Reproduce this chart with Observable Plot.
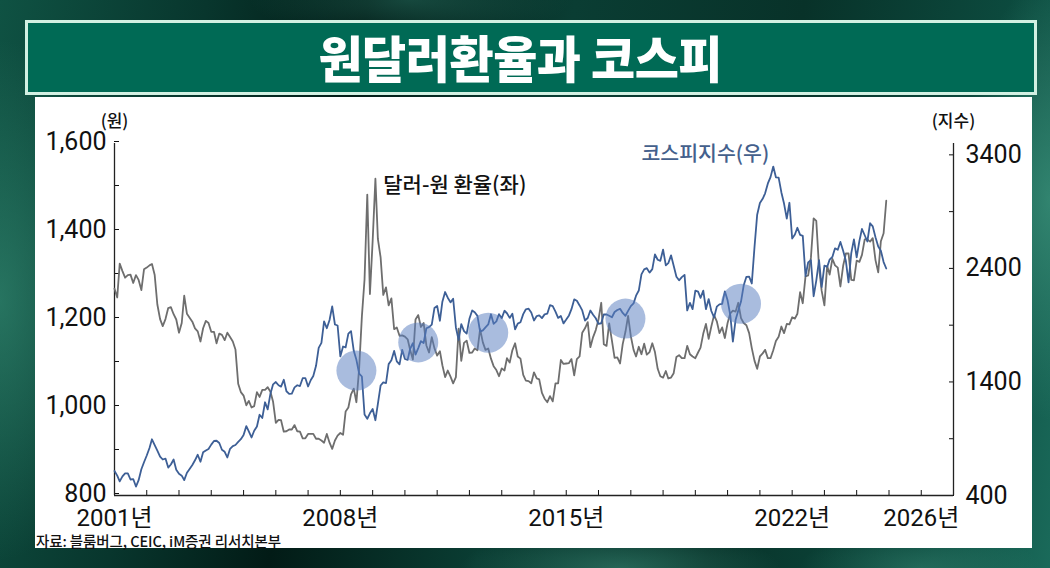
<!DOCTYPE html>
<html>
<head>
<meta charset="utf-8">
<script src="https://cdn.jsdelivr.net/npm/d3@7"></script>
<script src="https://cdn.jsdelivr.net/npm/@observablehq/plot@0.6"></script>
<style>
  html, body { margin: 0; padding: 0; }
  body {
    width: 1050px; height: 568px; overflow: hidden; position: relative;
    background:
      radial-gradient(ellipse 120px 260px at 0px 300px, rgba(60,150,125,0.55), rgba(0,0,0,0) 100%),
      radial-gradient(ellipse 90px 220px at 1050px 200px, rgba(70,160,135,0.6), rgba(0,0,0,0) 100%),
      radial-gradient(ellipse 160px 40px at 620px 568px, rgba(60,140,120,0.55), rgba(0,0,0,0) 100%),
      radial-gradient(ellipse 120px 40px at 920px 568px, rgba(60,140,120,0.45), rgba(0,0,0,0) 100%),
      radial-gradient(ellipse 160px 40px at 410px 0px, rgba(40,110,95,0.5), rgba(0,0,0,0) 100%),
      linear-gradient(100deg, #0f5243 0%, #08362d 18%, #021b16 32%, #0a3d33 50%, #083229 70%, #0c4a3e 88%, #1a6a5a 100%);
    font-family: Roboto, "Noto Sans CJK KR", sans-serif;
  }
  #banner {
    position: absolute; left: 25px; top: 20px; width: 1012px; height: 75px;
    box-sizing: border-box; border: 3px solid #d2f0e2; background: #006a55;
    display: flex; align-items: center; justify-content: center;
  }
  #banner span {
    color: #ffffff; font-family: "Noto Sans CJK KR", sans-serif; font-weight: 900;
    font-size: 50px; line-height: 1; display: inline-block;
    transform: translate(-11px, -2px) scaleX(0.96);
    letter-spacing: -0.5px;
  }
  #panel {
    position: absolute; left: 35px; top: 97px; width: 997px; height: 451px; background: #ffffff;
  }
  #chart { position: absolute; left: 0; top: 0; }
  #source {
    position: absolute; left: 1px; top: 437px; font-family: "Noto Sans CJK KR", sans-serif;
    font-size: 14.5px; line-height: 1; font-weight: 500; color: #111; letter-spacing: -0.1px; white-space: nowrap;
  }
</style>
</head>
<body>
<div id="banner"><span>원달러환율과 코스피</span></div>
<div id="panel">
  <div id="chart"></div>
  <div id="source">자료: 블룸버그, CEIC, iM증권 리서치본부</div>
</div>
<script>
// Monthly series, Jan 2001 - Dec 2024 (month-end readings)
const startYear = 2001;
const usdkrw = [
  1270,1250,1327,1310,1295,1301,1302,1283,1301,1290,1267,1314,
  1318,1323,1326,1301,1234,1201,1185,1201,1226,1228,1212,1200,
  1170,1192,1254,1213,1204,1195,1180,1173,1150,1180,1197,1192,
  1172,1172,1146,1168,1165,1153,1170,1160,1150,1132,1054,1035,
  1027,1005,1015,1000,1003,1035,1024,1040,1040,1046,1036,1013,
  965,972,971,945,946,950,950,960,946,945,930,930,
  940,940,940,929,929,925,920,940,920,906,925,936,
  942,938,991,1000,1030,1043,1012,1089,1207,1291,1484,1258,
  1379,1520,1383,1341,1256,1273,1232,1248,1178,1182,1163,1164,
  1161,1155,1131,1109,1200,1210,1183,1192,1141,1125,1160,1135,
  1118,1128,1096,1069,1084,1070,1055,1069,1179,1106,1147,1152,
  1124,1125,1134,1130,1178,1148,1131,1134,1111,1094,1085,1071,
  1089,1084,1112,1102,1130,1146,1116,1111,1074,1061,1060,1055,
  1080,1066,1064,1033,1020,1012,1026,1014,1055,1055,1108,1099,
  1100,1101,1110,1073,1110,1116,1170,1180,1194,1137,1160,1176,
  1200,1238,1144,1140,1191,1152,1113,1114,1100,1144,1172,1208,
  1162,1131,1116,1138,1121,1145,1120,1126,1146,1126,1088,1071,
  1068,1083,1066,1068,1078,1115,1119,1112,1112,1140,1121,1116,
  1112,1125,1136,1168,1190,1156,1184,1210,1196,1169,1182,1158,
  1192,1214,1220,1218,1238,1203,1192,1187,1169,1135,1106,1088,
  1116,1123,1131,1112,1112,1130,1151,1161,1184,1169,1190,1189,
  1205,1202,1213,1262,1237,1298,1300,1340,1430,1424,1319,1265,
  1232,1322,1302,1338,1323,1318,1275,1322,1350,1350,1290,1289,
  1334,1331,1347,1382,1382,1377,1385,1335,1307,1378,1396,1470
];
const kospi = [
  616,575,524,568,595,595,541,545,479,535,631,693,
  752,818,895,844,796,742,717,725,646,673,717,627,
  591,575,535,600,634,669,710,759,697,780,797,810,
  848,880,882,862,803,785,735,811,835,845,873,896,
  932,1011,965,911,970,1008,1111,1083,1221,1158,1297,1379,
  1399,1371,1359,1419,1318,1295,1297,1352,1371,1364,1433,1434,
  1360,1417,1453,1542,1700,1744,1933,1873,1946,2065,1906,1897,
  1625,1712,1704,1825,1848,1674,1595,1474,1448,1113,1076,1124,
  1162,1063,1206,1369,1396,1390,1557,1591,1673,1581,1555,1683,
  1602,1594,1692,1741,1641,1698,1759,1743,1873,1883,1905,2051,
  2069,1939,2107,2192,2142,2101,2133,1880,1770,1909,1847,1826,
  1956,2030,2014,1982,1843,1854,1881,1906,1996,1912,1933,1997,
  1962,2027,2005,1964,2001,1863,1914,1926,1997,2040,2045,2011,
  1941,1980,1986,1962,1995,2002,2076,2068,2020,1964,1981,1916,
  1950,1986,2041,2127,2115,2074,2030,1941,1963,2029,1992,1961,
  1912,1917,1996,1994,1983,1970,2016,2034,2044,2008,1983,2026,
  2068,2092,2160,2205,2347,2392,2402,2363,2394,2523,2476,2467,
  2566,2427,2446,2515,2423,2326,2295,2323,2343,2030,2097,2041,
  2205,2195,2141,2204,2041,2130,2025,1968,2063,2083,2088,2198,
  2119,1987,1755,1948,2030,2108,2249,2326,2328,2267,2591,2873,
  2976,3013,3061,3148,3204,3297,3202,3200,3069,2971,2839,2978,
  2663,2699,2758,2695,2686,2333,2452,2473,2155,2293,2473,2236,
  2425,2413,2477,2501,2577,2564,2633,2556,2465,2277,2535,2655,
  2497,2642,2747,2692,2637,2798,2770,2674,2593,2556,2456,2399
];
// Highlight circles (year-month, exchange rate level)
const circleMonths = ["2008-07", "2010-06", "2012-08", "2016-11", "2020-06"];
const circleValues = [1084, 1148, 1170, 1202, 1236];
// Axis definitions
const leftDomain = [800, 1600];
const leftTicks = [800, 900, 1000, 1100, 1200, 1300, 1400, 1500, 1600];
const leftLabeled = [800, 1000, 1200, 1400, 1600];
const rightDomain = [400, 3500];
const rightTicks = [400, 900, 1400, 1900, 2400, 2900, 3400];
const rightLabeled = [400, 1400, 2400, 3400];
const xStartYear = 2001, xEndYear = 2027;
const labeledYears = [2001, 2008, 2015, 2022, 2026];
// Annotations
const fxLabel = {text: "달러-원 환율(좌)", month: "2009-05", value: 1504};
const kospiLabel = {text: "코스피지수(우)", month: "2017-05", value: 3400};

const ym = s => { const [y, m] = s.split("-").map(Number); return new Date(Date.UTC(y, m - 1, 1)); };
const monthDate = i => new Date(Date.UTC(startYear, i, 1));
const fxData = usdkrw.map((v, i) => ({date: monthDate(i), value: v}));
const kData = kospi.map((v, i) => ({date: monthDate(i), value: v}));
const circles = circleMonths.map((m, i) => ({date: ym(m), value: circleValues[i]}));
const k2y = d3.scaleLinear(rightDomain, leftDomain);
const xDomain = [new Date(Date.UTC(xStartYear, 0, 1)), new Date(Date.UTC(xEndYear, 0, 1))];
const yearTicks = d3.range(xStartYear, xEndYear + 1).map(y => new Date(Date.UTC(y, 0, 1)));
const fmt = d3.format(",");

const chart = Plot.plot({
  width: 997, height: 451,
  marginLeft: 79, marginRight: 79, marginTop: 46, marginBottom: 53,
  style: {background: "transparent", fontFamily: "Roboto, 'Noto Sans CJK KR', sans-serif", fontSize: "25px", color: "#111", overflow: "visible"},
  x: {type: "utc", domain: xDomain},
  y: {domain: leftDomain},
  marks: [
    Plot.axisX({ticks: yearTicks, tickSize: -5, tickPadding: 18, fontSize: 24,
      tickFormat: d => labeledYears.includes(d.getUTCFullYear()) ? `${d.getUTCFullYear()}년` : "", label: null}),
    Plot.axisY({anchor: "left", ticks: leftTicks, tickSize: -5, tickPadding: 13, dy: -2,
      tickFormat: d => leftLabeled.includes(d) ? fmt(d) : "", label: null}),
    Plot.axisY({anchor: "right", ticks: rightTicks.map(k2y), tickSize: -5, tickPadding: 17,
      tickFormat: d => { const v = Math.round(k2y.invert(d)); return rightLabeled.includes(v) ? String(v) : ""; }, label: null}),
    Plot.ruleY([leftDomain[0]], {stroke: "#222", strokeWidth: 1.3}),
    Plot.ruleX(xDomain, {stroke: "#222", strokeWidth: 1.3}),
    Plot.lineY(fxData, {x: "date", y: "value", stroke: "#6e6e6e", strokeWidth: 1.8}),
    Plot.lineY(kData, {x: "date", y: d => k2y(d.value), stroke: "#3d5f96", strokeWidth: 1.8}),
    Plot.dot(circles, {x: "date", y: "value", r: 20, fill: "#5a7fc0", fillOpacity: 0.52, stroke: null}),
    Plot.text([fxLabel], {x: d => ym(d.month), y: "value", text: "text", textAnchor: "start",
      fontSize: 21, fill: "#111", fontFamily: "'Noto Sans CJK KR', sans-serif", fontWeight: 500}),
    Plot.text([kospiLabel], {x: d => ym(d.month), y: d => k2y(d.value), text: "text", textAnchor: "start",
      fontSize: 20.5, fill: "#44608c", fontFamily: "'Noto Sans CJK KR', sans-serif", fontWeight: 500}),
    Plot.text(["(원)"], {frameAnchor: "top-left", dy: -29, textAnchor: "middle", fontSize: 17,
      fill: "#111", fontFamily: "'Noto Sans CJK KR', sans-serif", fontWeight: 500}),
    Plot.text(["(지수)"], {frameAnchor: "top-right", dy: -29, textAnchor: "middle", fontSize: 17,
      fill: "#111", fontFamily: "'Noto Sans CJK KR', sans-serif", fontWeight: 500})
  ]
});
document.getElementById("chart").appendChild(chart);
</script>
</body>
</html>
